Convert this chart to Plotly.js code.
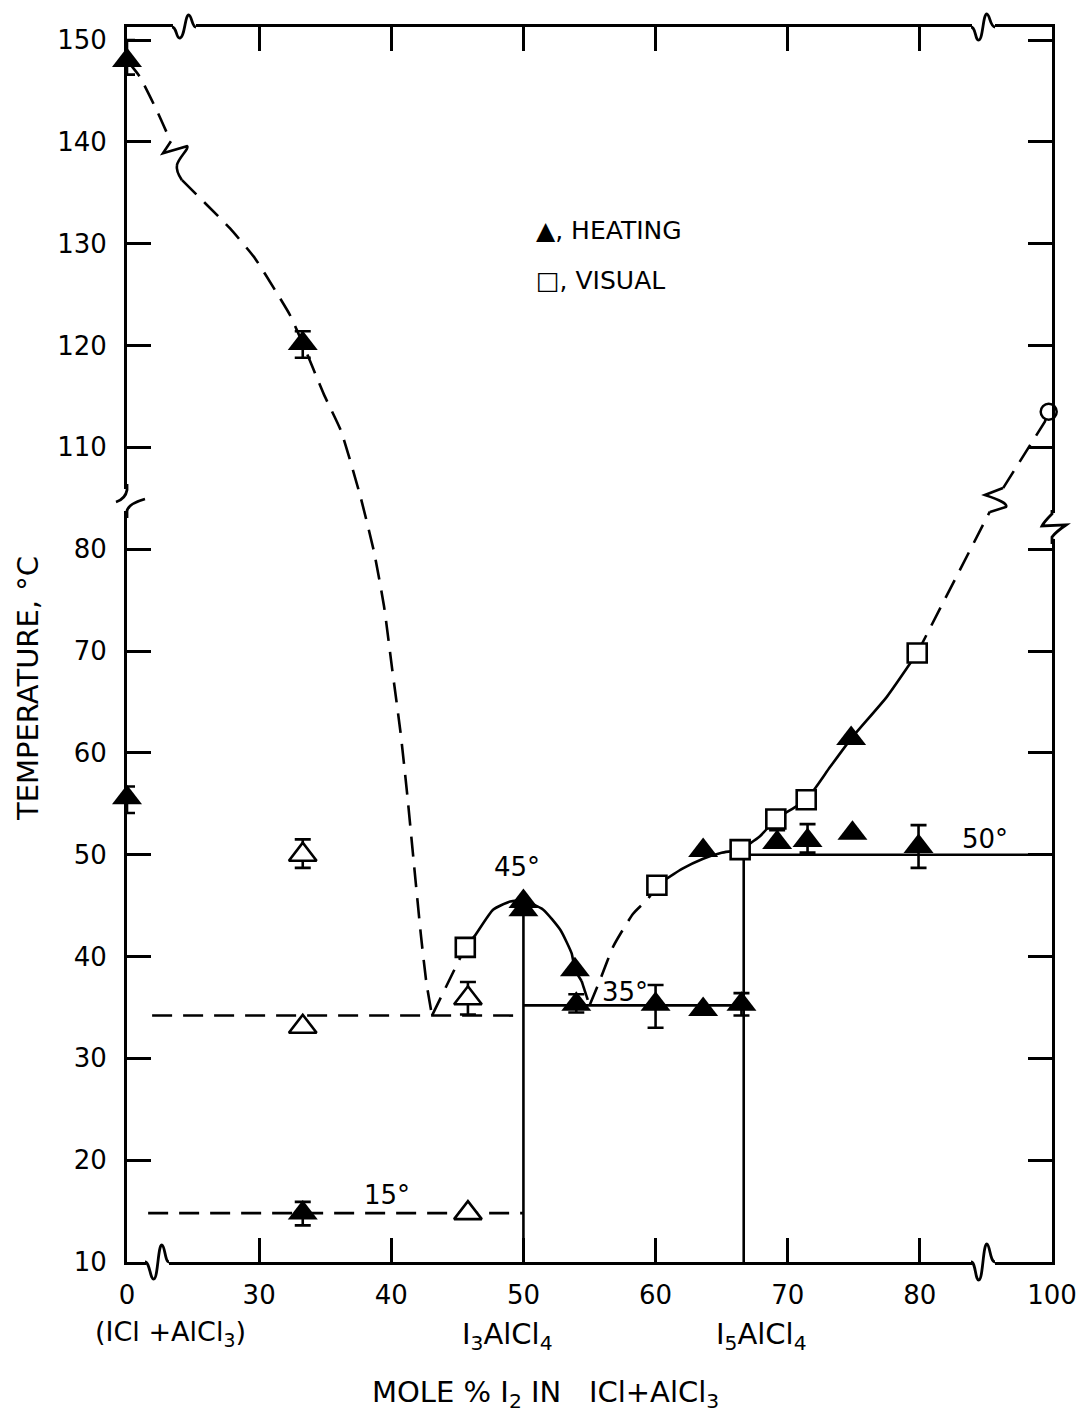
<!DOCTYPE html>
<html><head><meta charset="utf-8">
<script src="https://cdn.plot.ly/plotly-3.0.1.min.js"></script>
<style>html,body{margin:0;padding:0;background:#fff;}#chart{width:1088px;height:1417px;}</style>
</head><body><div id="chart"></div>
<script>
// ---------- broken-axis scale (real units -> plotted position) ----------
function mx(x){ if(x<=30) return 20 + x/3; if(x<=80) return x; return 80 + (x-80)/2; }
function my(y){ if(y<=80) return y; if(y<=110) return 80 + (y-80)/3; return y-20; }

// ---------- tick labels ----------
const xTickReal = [0,30,40,50,60,70,80,100];
const xTickText = ['0','30','40','50','60','70','80','100'];
const yTickReal = [10,20,30,40,50,60,70,80,110,120,130,140,150];
const yTickText = ['10','20','30','40','50','60','70','80','110','120','130','140','150'];

// ---------- data (mole % I2, temperature °C) ----------
// heating points with error bars
const heatErrX  = [0, 0, 33.3, 33.3, 54.0, 60.0, 66.5, 69.2, 71.5, 79.9];
const heatErrY  = [148.0, 55.6, 120.2, 14.8, 35.3, 35.3, 35.3, 51.2, 51.4, 50.8];
const heatErrUp = [2.0, 1.1, 1.2, 1.1, 1.0, 1.9, 1.1, 1.2, 1.6, 2.1];
const heatErrDn = [1.4, 1.5, 1.4, 1.2, 0.8, 2.3, 1.1, 0.5, 1.2, 2.1];
// heating points without error bars
const heatX = [50, 50, 53.9, 63.6, 63.6, 74.9, 74.8];
const heatY = [45.4, 44.6, 38.7, 34.8, 50.4, 52.1, 61.4];
// visual points
const visX = [45.6, 60.1, 66.4, 69.1, 71.4, 79.8];
const visY = [40.9, 47.0, 50.5, 53.5, 55.4, 69.8];
// open triangles
const openErrX  = [33.3, 45.8];
const openErrY  = [50.0, 35.9];
const openErrUp = [1.5, 1.6];
const openErrDn = [1.3, 1.6];
const openX = [33.3, 45.8];
const openY = [33.1, 14.8];
// pure iodine melting point
const iodX = [99.5];
const iodY = [113.5];

// liquidus curves
const liqA_X = [0, 2.9, 6.75, 9.75];
const liqA_Y = [148.0, 146.4, 143.1, 140.2];
const liqB_X = [12.5, 17.7, 23.4, 29.0, 31.2, 32.33, 33.3, 34.9, 36.2, 37.7, 38.7, 39.45, 40.07, 40.7, 41.2, 41.75, 42.25, 42.65, 43.08];
const liqB_Y = [136.25, 134.0, 131.5, 128.6, 125.45, 123.0, 120.2, 115.2, 111.6, 95.0, 79.7, 74.4, 68.2, 62.0, 56.0, 48.6, 42.0, 37.5, 34.2];
const liqC_X = [43.08, 45.6];
const liqC_Y = [34.2, 40.9];
const archX = [45.6, 46.3, 47.7, 49.0, 50.0, 51.5, 52.8, 53.65, 53.9, 54.4];
const archY = [40.9, 42.0, 44.6, 45.4, 45.5, 44.6, 42.6, 40.3, 38.7, 37.6];
const archD_X = [54.4, 55.0];
const archD_Y = [37.6, 35.2];
const riseD_X = [55.0, 55.8, 56.8, 58.3, 59.45, 60.1];
const riseD_Y = [35.2, 37.7, 41.0, 44.2, 45.7, 47.0];
const riseX = [60.1, 62.0, 63.6, 65.0, 66.4, 67.9, 69.1, 71.4, 73.2, 74.8, 77.5, 79.8];
const riseY = [47.0, 48.6, 49.6, 50.2, 50.5, 51.8, 53.5, 55.4, 58.6, 61.4, 65.5, 69.8];
const topD1_X = [79.8, 90.6];
const topD1_Y = [69.8, 91.1];
const topD2_X = [92.6, 98.9, 99.5];
const topD2_Y = [98.0, 112.5, 113.5];
// invariant lines
const eut34X = [5.7, 50];   const eut34Y = [34.2, 34.2];
const eut15X = [4.8, 50];   const eut15Y = [14.8, 14.8];
const inv35X = [50, 66.67]; const inv35Y = [35.2, 35.2];
const inv50X = [66.67, 100]; const inv50Y = [50, 50];
const v50X = [50, 50];      const v50Y = [10, 45.5];
const v67X = [66.67, 66.67]; const v67Y = [10, 50.5];
// point labels
const lblText = ['45°', '35°', '50°', '15°'];
const lblX = [49.5, 57.7, 89.8, 39.65];
const lblY = [48.8, 36.5, 51.5, 16.6];

// ---------- layout constants ----------
const W = 1088, H = 1417, ML = 127, MR = 36, MT = 27, MB = 155;
const plotW = W - ML - MR, plotH = H - MT - MB;
const xR = [20, 90], yR = [10, 131.28];
const FONT = 'DejaVu Sans, Arial, sans-serif';
const DASH = '20px,11px';

function line(xs, ys, dashed, smooth){
  return {type:'scatter', mode:'lines', x: xs.map(mx), y: ys.map(my),
    line:{color:'#000', width:2.6, dash: dashed ? DASH : 'solid', shape: smooth ? 'spline' : 'linear', smoothing: 0.5},
    hoverinfo:'skip', cliponaxis:false};
}
function errs(ys, ds){ return ys.map((y,i)=> Math.abs(my(y+ds[i]) - my(y))); }
function errsDn(ys, ds){ return ys.map((y,i)=> Math.abs(my(y) - my(y-ds[i]))); }

const traces = [
  line(eut34X, eut34Y, true), line(eut15X, eut15Y, true),
  line(inv35X, inv35Y, false), line(inv50X, inv50Y, false),
  line(v50X, v50Y, false), line(v67X, v67Y, false),
  line(liqA_X, liqA_Y, true, true), line(liqB_X, liqB_Y, true, true),
  line(liqC_X, liqC_Y, true), line(archX, archY, false, true), line(archD_X, archD_Y, true),
  line(riseD_X, riseD_Y, true, true), line(riseX, riseY, false, true),
  line(topD1_X, topD1_Y, true), line(topD2_X, topD2_Y, true),
  {type:'scatter', mode:'markers', x: heatErrX.map(mx), y: heatErrY.map(my), cliponaxis:false, hoverinfo:'skip',
   marker:{symbol:'triangle-up', size:26, color:'#000', line:{width:0}},
   error_y:{type:'data', symmetric:false, array: errs(heatErrY, heatErrUp), arrayminus: errsDn(heatErrY, heatErrDn), color:'#000', thickness:2.6, width:8}},
  {type:'scatter', mode:'markers', x: heatX.map(mx), y: heatY.map(my), cliponaxis:false, hoverinfo:'skip',
   marker:{symbol:'triangle-up', size:26, color:'#000', line:{width:0}}},
  {type:'scatter', mode:'markers', x: openErrX.map(mx), y: openErrY.map(my), cliponaxis:false, hoverinfo:'skip',
   marker:{symbol:'triangle-up', size:24, color:'#fff', line:{width:2.6, color:'#000'}},
   error_y:{type:'data', symmetric:false, array: errs(openErrY, openErrUp), arrayminus: errsDn(openErrY, openErrDn), color:'#000', thickness:2.6, width:8}},
  {type:'scatter', mode:'markers', x: openX.map(mx), y: openY.map(my), cliponaxis:false, hoverinfo:'skip',
   marker:{symbol:'triangle-up', size:24, color:'#fff', line:{width:2.6, color:'#000'}}},
  {type:'scatter', mode:'markers', x: visX.map(mx), y: visY.map(my), cliponaxis:false, hoverinfo:'skip',
   marker:{symbol:'square', size:19, color:'#fff', line:{width:2.6, color:'#000'}}},
  {type:'scatter', mode:'markers', x: iodX.map(mx), y: iodY.map(my), cliponaxis:false, hoverinfo:'skip',
   marker:{symbol:'circle', size:16, color:'#fff', line:{width:2.5, color:'#000'}}}
];

// ---------- axis-break decorations (pixel offsets around an axis position, paper refs) ----------
function pX(xInt){ return (xInt - xR[0])/(xR[1]-xR[0]); }
function pY(yInt){ return (yInt - yR[0])/(yR[1]-yR[0]); }
function offPath(cx, cy, str){
  const bx = pX(cx), by = pY(cy);
  return str.replace(/(-?\d+(?:\.\d+)?),(-?\d+(?:\.\d+)?)/g, (m,a,b)=> (bx + (+a)/plotW).toFixed(5) + ',' + (by - (+b)/plotH).toFixed(5));
}
function whiteRect(cx, cy, dx0, dx1, dy0, dy1){
  const bx = pX(cx), by = pY(cy);
  return {type:'rect', xref:'paper', yref:'paper', layer:'above', x0: bx+dx0/plotW, x1: bx+dx1/plotW, y0: by-dy0/plotH, y1: by-dy1/plotH,
    fillcolor:'#fff', line:{width:0}};
}
function squig(cx, cy, str, w){
  return {type:'path', xref:'paper', yref:'paper', layer:'above', path: offPath(cx, cy, str), line:{color:'#000', width: w||2.8}};
}
const yTop = yR[1];
const shapes = [
  // bottom-left x break
  whiteRect(22.27, 10, -11, 12, -4, 4),
  squig(22.27, 10, 'M -12,0 C -7,0 -7,18 -3,17 C 1,16 1,-18 5,-17 C 8,-16 8,0 12,0'),
  // top-left x break
  whiteRect(24.31, yTop, -11, 12, -4, 4),
  squig(24.31, yTop, 'M -12,0 C -7,0 -8,12 -4,11 C 1,10 1,-13 5,-12 C 8,-11 8,0 12,0'),
  // top-right x break
  whiteRect(84.78, yTop, -11, 12, -4, 4),
  squig(84.78, yTop, 'M -12,0 C -7,0 -8,14 -4,13 C 0,12 0,-14 4,-13 C 7,-12 7,0 12,0'),
  // bottom-right x break
  whiteRect(84.78, 10, -11, 12, -4, 4),
  squig(84.78, 10, 'M -12,0 C -7,0 -8,19 -4,18 C 0,17 0,-19 4,-18 C 7,-17 7,0 12,0'),
  // left y break
  whiteRect(20, 84.83, -5, 5, -11, 11),
  squig(20, 84.83, 'M 0,-16 L 0,-10 C -1,-4 -5,0 -11,2'),
  squig(20, 84.83, 'M 0,18 L 0,11 C 1,5 11,1 18,-1'),
  // right y break
  whiteRect(90, 82.28, -5, 5, -13, 13),
  squig(90, 82.28, 'M 0,-16 L 0,-12 C -3,-9 -8,-4 -10,0 L 14,-1 C 8,3 3,7 0,11 L 0,18'),
  // break marks on the dashed liquidus curves
  squig(23.78, 118.2, 'M -6,-19 L -14,-7 L 10,-14 C 13,-12 1,-2 0,5 C -1,10 1,14 5,20', 2.6),
  squig(85.76, 84.83, 'M 7,-12 L -11,-5 C 4,0 12,4 10,7 L -6,12', 2.6)
];

// ---------- annotations ----------
function paperX(px){ return (px-ML)/plotW; }
function paperY(py){ return (H-MB-py)/plotH; }
const annotations = lblText.map((t,i)=>({text:t, x: mx(lblX[i]), y: my(lblY[i]), xref:'x', yref:'y',
  showarrow:false, xanchor:'center', yanchor:'middle', font:{family:FONT, size:26, color:'#000'}}));
annotations.push(
  {text:'▲, HEATING', x: paperX(534), y: paperY(230), xref:'paper', yref:'paper', showarrow:false, xanchor:'left', yanchor:'middle', font:{family:FONT, size:25, color:'#000'}},
  {text:'□, VISUAL', x: paperX(534), y: paperY(281), xref:'paper', yref:'paper', showarrow:false, xanchor:'left', yanchor:'middle', font:{family:FONT, size:25, color:'#000'}},
  {text:'TEMPERATURE, °C', x: paperX(28), y: paperY(689), xref:'paper', yref:'paper', showarrow:false, textangle:-90, xanchor:'center', yanchor:'middle', font:{family:FONT, size:29, color:'#000'}},
  {text:'(ICl +AlCl<sub>3</sub>)', x: paperX(170), y: paperY(1333), xref:'paper', yref:'paper', showarrow:false, xanchor:'center', yanchor:'middle', font:{family:FONT, size:27, color:'#000'}},
  {text:'I<sub>3</sub>AlCl<sub>4</sub>', x: paperX(507), y: paperY(1336), xref:'paper', yref:'paper', showarrow:false, xanchor:'center', yanchor:'middle', font:{family:FONT, size:29, color:'#000'}},
  {text:'I<sub>5</sub>AlCl<sub>4</sub>', x: paperX(761), y: paperY(1336), xref:'paper', yref:'paper', showarrow:false, xanchor:'center', yanchor:'middle', font:{family:FONT, size:29, color:'#000'}},
  {text:'MOLE % I<sub>2</sub> IN\u00a0\u00a0 ICl+AlCl<sub>3</sub>', x: paperX(545), y: paperY(1394), xref:'paper', yref:'paper', showarrow:false, xanchor:'center', yanchor:'middle', font:{family:FONT, size:29, color:'#000'}}
);

const axisCommon = {ticks:'inside', ticklen:24, tickwidth:3, tickcolor:'#000', showline:true, linewidth:3, linecolor:'#000',
  mirror:'ticks', showgrid:false, zeroline:false, tickfont:{family:FONT, size:26, color:'#000'}, fixedrange:true};

const layout = {
  width: W, height: H,
  margin:{l:ML, r:MR, t:MT, b:MB, pad:0},
  paper_bgcolor:'#fff', plot_bgcolor:'#fff', showlegend:false,
  font:{family:FONT, color:'#000', size:25},
  xaxis: Object.assign({}, axisCommon, {range:xR, tickmode:'array', tickvals: xTickReal.map(mx), ticktext: xTickText, ticklabelstandoff: 8}),
  yaxis: Object.assign({}, axisCommon, {range:yR, tickmode:'array', tickvals: yTickReal.map(my), ticktext: yTickText, ticklabelstandoff: 12}),
  shapes: shapes,
  annotations: annotations
};

Plotly.newPlot('chart', traces, layout, {staticPlot:true, displayModeBar:false});
</script>
</body></html>
